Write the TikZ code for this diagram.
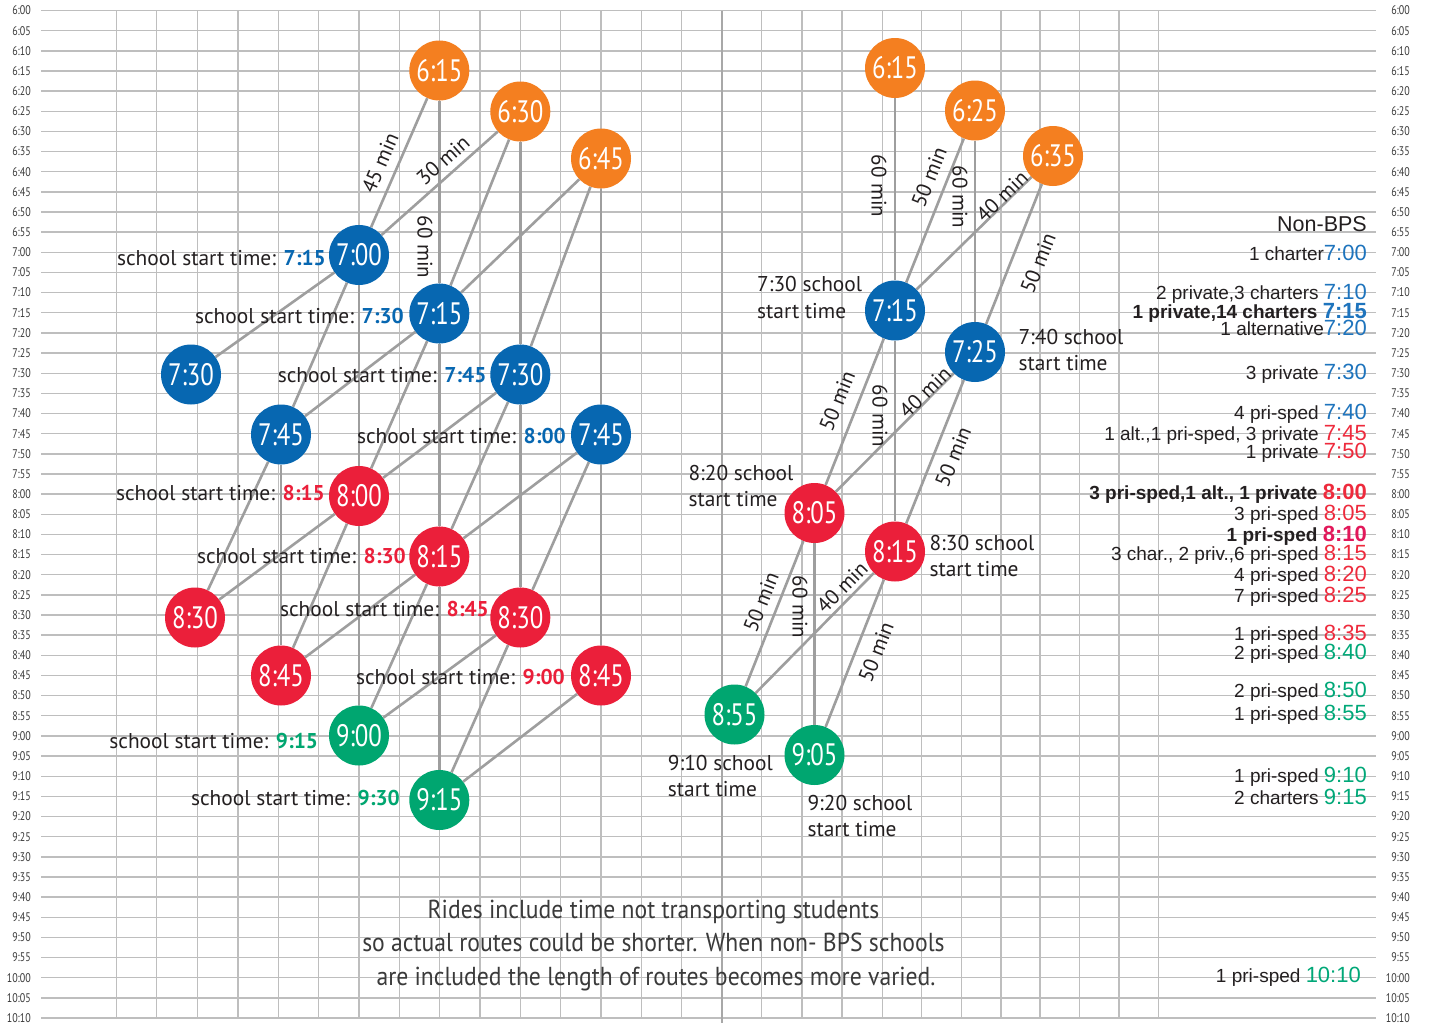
\documentclass[tikz,border=0pt]{standalone}
\usepackage{fontspec}
\setmainfont{PT Sans}
\newfontfamily\cnd[FakeStretch=0.8]{PT Sans}
\newfontfamily\cndn[FakeStretch=0.91]{PT Sans}
\newfontfamily\arl{Liberation Sans}
\definecolor{cOr}{HTML}{F47F20}
\definecolor{cBl}{HTML}{0767B1}
\definecolor{cRd}{HTML}{EB1F3A}
\definecolor{cGn}{HTML}{00A670}
\definecolor{lBl}{HTML}{1E74BD}
\definecolor{lRd}{HTML}{EE2A3C}
\definecolor{lMg}{HTML}{E2185A}
\definecolor{lGn}{HTML}{00A878}
\definecolor{gridc}{HTML}{BEBEBE}
\definecolor{edgec}{HTML}{9E9E9E}
\definecolor{divc}{HTML}{A8A8A8}
\definecolor{txt}{HTML}{231F20}
\definecolor{axc}{HTML}{3A3A3A}
\newcommand\tmv[2]{{\fontsize{22}{22}\selectfont\color{#1}#2}}
\begin{document}
\begin{tikzpicture}[x=1pt,y=-1pt,
  gridl/.style={draw=gridc,line width=1.4},
  divl/.style={draw=divc,line width=2.2},
  edgel/.style={draw=edgec,line width=2.6},
  circ/.style={circle,minimum size=60,inner sep=0,text=white,font=\cnd\fontsize{31}{31}\selectfont},
  orn/.style={circ,fill=cOr},
  bln/.style={circ,fill=cBl},
  rdn/.style={circ,fill=cRd},
  gnn/.style={circ,fill=cGn},
  axl/.style={inner sep=0,anchor=east,text=axc,font=\cnd\fontsize{12.5}{12.5}\selectfont},
  elab/.style={inner sep=0,text=txt,font=\fontsize{21}{21}\selectfont},
  slab/.style={inner sep=0,anchor=base east,text=txt,font=\fontsize{21.4}{21.4}\selectfont},
  s2/.style={inner sep=0,anchor=base west,text=txt,font=\fontsize{21.4}{21.4}\selectfont},
  lst/.style={inner sep=0,anchor=base east,text=txt,font=\arl\fontsize{19}{19}\selectfont},
  note/.style={inner sep=0,anchor=base,text=axc,font=\cndn\fontsize{26}{26}\selectfont}
]
\useasboundingbox (0,0) rectangle (1435,1023);
\fill[white] (0,0) rectangle (1435,1023);
% grid
\foreach \k in {0,...,50}{
  \pgfmathsetmacro\yy{10.5+20.15*\k}
  \pgfmathtruncatemacro\hh{6+floor(\k/12)}
  \pgfmathtruncatemacro\mm{5*mod(\k,12)}
  \draw[gridl] (41,\yy) -- (1376,\yy);
  \node[axl] (la\k) at (31,\yy) {\hh:\ifnum\mm<10 0\fi\mm};
  \node[axl] (ra\k) at (1410,\yy) {\hh:\ifnum\mm<10 0\fi\mm};
}
\foreach \x in {116.7,156.7,197.3,238,278.3,318.7,359,399.3,439.3,480,520.3,560.7,601,641.3,681.7,761.7,802,842,882.3,921.7,961.7,1001,1040,1079.3,1119,1158.7}{
  \draw[gridl] (\x,10.5) -- (\x,1018);
}
\draw[divl] (721.7,10.5) -- (721.7,1023);

% left cluster nodes
\node[orn] (o615) at (439.3,70.5) {6:15};
\node[orn] (o630) at (520.3,111.5) {6:30};
\node[orn] (o645) at (601,158.5) {6:45};
\node[bln] (b700) at (359,255) {7:00};
\node[bln] (b715) at (439.3,313.5) {7:15};
\node[bln] (b730a) at (191,374.5) {7:30};
\node[bln] (b745a) at (281,434.5) {7:45};
\node[bln] (b730) at (520.3,374.5) {7:30};
\node[bln] (b745) at (601,434.5) {7:45};
\node[rdn] (r800) at (359,496) {8:00};
\node[rdn] (r815) at (439.3,556.5) {8:15};
\node[rdn] (r830a) at (195,617.5) {8:30};
\node[rdn] (r830) at (520.3,617.5) {8:30};
\node[rdn] (r845a) at (281,675.5) {8:45};
\node[rdn] (r845) at (601,675.5) {8:45};
\node[gnn] (g900) at (359,735.5) {9:00};
\node[gnn] (g915) at (439.3,800) {9:15};

% right cluster nodes
\node[orn] (p615) at (895,68) {6:15};
\node[orn] (p625) at (975,110.5) {6:25};
\node[orn] (p635) at (1053,156) {6:35};
\node[bln] (q715) at (895,310.5) {7:15};
\node[bln] (q725) at (975,352) {7:25};
\node[rdn] (s805) at (814.5,513) {8:05};
\node[rdn] (s815) at (895,551.5) {8:15};
\node[gnn] (t855) at (734.5,714.5) {8:55};
\node[gnn] (t905) at (814.5,755) {9:05};

% left connectors
\foreach \a/\b in {o615/b715,b715/r815,r815/g915,b700/r800,r800/g900,o630/b730,b730/r830,o645/b745,b745/r845,b745a/r845a,
  o615/b700,o630/b700,o630/b715,o645/b715,o645/b730,b700/b730a,b700/b745a,b715/b745a,b715/r800,b730/r800,b730/r815,
  b745/r815,b745/r830,b745a/r830a,r800/r830a,r800/r845a,r815/r845a,r815/g900,r830/g900,r830/g915,r845/g915}
  \draw[edgel] (\a) -- (\b);
% right connectors
\foreach \a/\b in {p615/q715,p625/q715,p625/q725,p635/q715,p635/q725,q715/s805,q715/s815,q725/s805,q725/s815,
  s805/t855,s805/t905,s815/t855,s815/t905}
  \draw[edgel] (\a) -- (\b);

% connector labels
\node[elab,rotate=66.6] (e1) at (380,163) {45 min};
\node[elab,rotate=41.8] (e2) at (443,160) {30 min};
\node[elab,rotate=-90] (e3) at (425,247) {60 min};
\node[elab,rotate=-90] (e4) at (879,186) {60 min};
\node[elab,rotate=68.4] (e5) at (929,177) {50 min};
\node[elab,rotate=-90] (e6) at (960,197) {60 min};
\node[elab,rotate=44.5] (e7) at (1002,196) {40 min};
\node[elab,rotate=68.6] (e8) at (1038,263) {50 min};
\node[elab,rotate=67.9] (e9) at (837,401) {50 min};
\node[elab,rotate=-90] (e10) at (880,416) {60 min};
\node[elab,rotate=44.8] (e11) at (925,392) {40 min};
\node[elab,rotate=67.8] (e12) at (953,457) {50 min};
\node[elab,rotate=68.5] (e13) at (761,602) {50 min};
\node[elab,rotate=-90] (e14) at (800,607) {60 min};
\node[elab,rotate=45.5] (e15) at (842,587) {40 min};
\node[elab,rotate=68.7] (e16) at (876,652) {50 min};

% school start labels (left)
\node[slab] (l1) at (326,265) {school start time: \textbf{\color{cBl}7:15}};
\node[slab] (l2) at (404,323.3) {school start time: \textbf{\color{cBl}7:30}};
\node[slab] (l3) at (486.7,382.7) {school start time: \textbf{\color{cBl}7:45}};
\node[slab] (l4) at (566,443) {school start time: \textbf{\color{cBl}8:00}};
\node[slab] (l5) at (325,500.7) {school start time: \textbf{\color{cRd}8:15}};
\node[slab] (l6) at (406,563.3) {school start time: \textbf{\color{cRd}8:30}};
\node[slab] (l7) at (489,616.7) {school start time: \textbf{\color{cRd}8:45}};
\node[slab] (l8) at (565,684) {school start time: \textbf{\color{cRd}9:00}};
\node[slab] (l9) at (318.3,748.3) {school start time: \textbf{\color{cGn}9:15}};
\node[slab] (l10) at (400,805) {school start time: \textbf{\color{cGn}9:30}};

% school start labels (right)
\node[s2] (m1a) at (757,291.7) {7:30 school};
\node[s2] (m1b) at (757,318.3) {start time};
\node[s2] (m2a) at (1018.3,344) {7:40 school};
\node[s2] (m2b) at (1018.3,370.7) {start time};
\node[s2] (m3a) at (688.3,480) {8:20 school};
\node[s2] (m3b) at (688.3,506.7) {start time};
\node[s2] (m4a) at (929.3,550) {8:30 school};
\node[s2] (m4b) at (929.3,576.7) {start time};
\node[s2] (m5a) at (667.7,770) {9:10 school};
\node[s2] (m5b) at (667.7,796.7) {start time};
\node[s2] (m6a) at (807.3,810) {9:20 school};
\node[s2] (m6b) at (807.3,836) {start time};

% Non-BPS list
\node[lst,font=\arl\fontsize{21.5}{21.5}\selectfont] (nb0) at (1367,231.7) {Non-BPS};
\node[lst] (nb1) at (1367,260) {1 charter\tmv{lBl}{7:00}};
\node[lst] (nb2) at (1367,299.3) {2 private,3 charters \tmv{lBl}{7:10}};
\node[lst] (nb3) at (1367,318.3) {\bfseries 1 private,14 charters \tmv{lBl}{7:15}};
\node[lst] (nb4) at (1367,335) {1 alternative\tmv{lBl}{7:20}};
\node[lst] (nb5) at (1367,379.3) {3 private \tmv{lBl}{7:30}};
\node[lst] (nb6) at (1367,419.3) {4 pri-sped \tmv{lBl}{7:40}};
\node[lst] (nb7) at (1367,440) {1 alt.,1 pri-sped, 3 private \tmv{lRd}{7:45}};
\node[lst] (nb8) at (1367,458.3) {1 private \tmv{lRd}{7:50}};
\node[lst] (nb9) at (1367,499.3) {\bfseries 3 pri-sped,1 alt., 1 private \tmv{lRd}{8:00}};
\node[lst] (nb10) at (1367,520.7) {3 pri-sped \tmv{lRd}{8:05}};
\node[lst] (nb11) at (1367,541) {\bfseries 1 pri-sped \tmv{lMg}{8:10}};
\node[lst] (nb12) at (1367,560) {3 char., 2 priv.,6 pri-sped \tmv{lRd}{8:15}};
\node[lst] (nb13) at (1367,581.7) {4 pri-sped \tmv{lRd}{8:20}};
\node[lst] (nb14) at (1367,602.7) {7 pri-sped \tmv{lRd}{8:25}};
\node[lst] (nb15) at (1367,640) {1 pri-sped \tmv{lRd}{8:35}};
\node[lst] (nb16) at (1367,659.3) {2 pri-sped \tmv{lGn}{8:40}};
\node[lst] (nb17) at (1367,697.3) {2 pri-sped \tmv{lGn}{8:50}};
\node[lst] (nb18) at (1367,720.7) {1 pri-sped \tmv{lGn}{8:55}};
\node[lst] (nb19) at (1367,782.7) {1 pri-sped \tmv{lGn}{9:10}};
\node[lst] (nb20) at (1367,804) {2 charters \tmv{lGn}{9:15}};
\node[lst] (nb21) at (1361,982.7) {1 pri-sped \tmv{lGn}{10:10}};

% note
\node[note] (nt1) at (653.5,918.3) {Rides include time not transporting students};
\node[note] (nt2) at (653.5,951.7) {so actual routes could be shorter. When non- BPS schools};
\node[note] (nt3) at (656,985) {are included the length of routes becomes more varied.};
\end{tikzpicture}
\end{document}
